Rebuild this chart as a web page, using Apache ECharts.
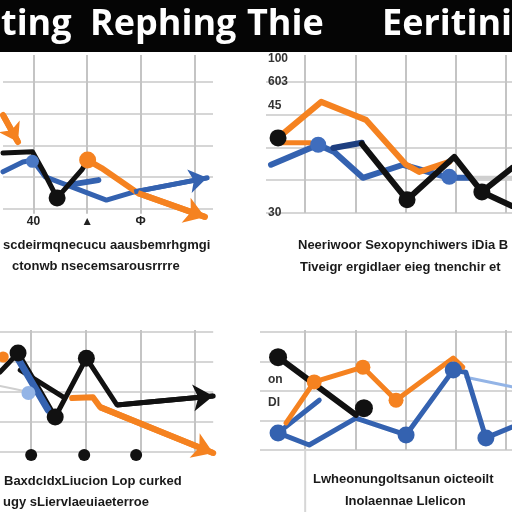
<!DOCTYPE html>
<html><head><meta charset="utf-8">
<script src="https://cdn.jsdelivr.net/npm/echarts@6/dist/echarts.min.js"></script>
<style>html,body{margin:0;padding:0;background:#fff}#c{width:512px;height:512px}</style>
</head><body><div id="c"></div>
<script>
// ---- text ----
const titleWords = ['ting', 'Rephing', 'Thie', 'Eeritinis'];
const captions = [
  'scdeirmqnecucu aausbemrhgmgi', 'ctonwb nsecemsarousrrrre',
  'Neeriwoor Sexopynchiwers iDia B', 'Tiveigr ergidlaer eieg tnenchir et',
  'BaxdcldxLiucion Lop curked', 'ugy sLiervlaeuiaeterroe',
  'Lwheonungoltsanun oicteoilt', 'Inolaennae Llelicon'
];
const p1XLabels = { 1: '40', 2: '▲', 3: 'Ф' };
const p2YLabels = { 0: '30', 4: '100\n603\n45' };
const p4YLabels = { 2: 'on\nDI' };

// ---- panel 1 (top left) ----
const p1OrangeA = [[0.43, 2.96], [0.71, 2.11]];
const p1OrangeB = [[2.01, 1.54], [2.27, 1.29], [2.95, 0.50], [4.20, -0.25]];
const p1Black = [[0.43, 1.76], [0.98, 1.80], [1.17, 1.23], [1.44, 0.35], [1.90, 1.23], [2.01, 1.54]];
const p1Blue = [[0.43, 1.17], [0.80, 1.48], [0.98, 1.54], [1.22, 1.01], [2.36, 0.28], [2.88, 0.54], [4.24, 0.98]];
const p1BlueShort = [[1.66, 0.76], [2.21, 0.91]];
const p1BlackDots = [[1.44, 0.35]];
const p1OrangeDots = [[2.01, 1.54]];
const p1BlueDots = [[0.98, 1.50]];

// ---- panel 2 (top right) ----
const p2Orange = [[0.46, 2.29], [1.32, 3.39], [2.21, 2.84], [3.01, 1.47], [3.27, 1.25], [3.87, 1.56]];
const p2OrangeShort = [[0.46, 2.14], [1.10, 2.14]];
const p2Black = [[2.13, 2.11], [3.03, 0.40], [3.97, 1.71], [4.52, 0.64], [5.12, 1.37]];
const p2BlackB = [[4.52, 0.64], [5.12, 0.21]];
const p2Blue = [[0.32, 1.47], [1.26, 2.08], [1.58, 1.86], [2.15, 1.07], [2.95, 1.47], [3.87, 1.07], [4.26, 1.07]];
const p2Navy = [[1.56, 1.98], [2.13, 2.14]];
const p2Gray = [[4.20, 1.07], [5.12, 1.07]];
const p2BlackDots = [[0.46, 2.29], [3.03, 0.40], [4.52, 0.64]];
const p2BlueDots = [[1.26, 2.08], [3.87, 1.10]];

// ---- panel 3 (bottom left) ----
const p3Black = [[0.43, 2.67], [0.76, 3.30], [1.02, 2.50], [1.44, 1.17], [2.01, 3.13], [2.57, 1.57], [4.33, 1.87]];
const p3BlackB = [[0.80, 2.73], [1.59, 1.83]];
const p3Blue = [[0.74, 3.17], [1.31, 1.40]];
const p3Gray = [[0.43, 2.20], [0.70, 2.10], [0.95, 2.00]];
const p3Orange = [[1.75, 1.80], [2.13, 1.83], [2.26, 1.50], [4.33, -0.03]];
const p3BlackDots = [[0.76, 3.30], [1.44, 1.17], [2.01, 3.13]];
const p3AxisDots = [[1.00, -0.10], [1.97, -0.10], [2.92, -0.10]];
const p3LightDots = [[0.95, 1.97]];
const p3OrangeDots = [[0.49, 3.17]];

// ---- panel 4 (bottom right) ----
const p4Black = [[0.46, 3.15], [2.01, 1.19]];
const p4Orange = [[0.62, 0.92], [1.18, 2.31], [2.15, 2.81], [2.81, 1.69], [3.95, 3.12], [4.14, 2.81]];
const p4Blue = [[0.46, 0.58], [1.08, 0.17], [2.01, 1.08], [3.01, 0.51], [3.95, 2.71], [4.20, 2.64], [4.60, 0.41], [5.12, 0.78]];
const p4BlueB = [[0.46, 0.58], [1.28, 1.69]];
const p4Light = [[4.20, 2.47], [5.12, 2.14]];
const p4Divider = [[1.00, -2.10], [1.00, 0.00]];
const p4BlackDots = [[0.46, 3.15], [2.17, 1.42]];
const p4OrangeDots = [[1.18, 2.31], [2.15, 2.81], [2.81, 1.69]];
const p4BlueDots = [[0.46, 0.58], [3.01, 0.51], [3.95, 2.71], [4.60, 0.41]];

const C = { orange: '#F58220', blue: '#3462B0', navy: '#1E3F80', black: '#111111', light: '#93B4E6', gray: '#cfcfcf' };

function xAx(i, min, max, labels) {
  return {
    type: 'value', gridIndex: i, min: min, max: max, minInterval: 1, maxInterval: 1,
    axisLine: { show: false }, axisTick: { show: false },
    axisLabel: labels ? { show: true, margin: 2, fontSize: 12, fontWeight: 'bold', color: '#222',
      formatter: v => labels[v] || '' } : { show: false },
    splitLine: { show: true, showMinLine: false, showMaxLine: false, lineStyle: { color: '#c4c4c4', width: 2 } }
  };
}
function yAx(i, min, max, showMin, labels, margin, lh) {
  return {
    type: 'value', gridIndex: i, min: min, max: max, minInterval: 1, maxInterval: 1,
    axisLine: { show: false }, axisTick: { show: false },
    axisLabel: labels ? { show: true, inside: true, margin: margin, fontSize: 12, fontWeight: 'bold',
      color: '#333', lineHeight: lh, fontFamily: 'Liberation Sans', formatter: v => labels[v] || '' } : { show: false },
    splitLine: { show: true, showMinLine: showMin, showMaxLine: false, lineStyle: { color: '#d6d6d6', width: 2 } }
  };
}
function line(g, data, color, width, z) {
  return { type: 'line', xAxisIndex: g, yAxisIndex: g, data: data, symbol: 'none', clip: false,
    lineStyle: { color: color, width: width, join: 'round', cap: 'round' }, z: z || 2, silent: true };
}
function arrow(g, data, color, width, size) {
  return { type: 'lines', coordinateSystem: 'cartesian2d', xAxisIndex: g, yAxisIndex: g, clip: false,
    symbol: ['none', 'arrow'], symbolSize: size,
    lineStyle: { color: color, width: width, opacity: 1 },
    data: [{ coords: data.slice(-2) }], z: 3, silent: true };
}
function dots(g, data, color, size, z) {
  return { type: 'scatter', xAxisIndex: g, yAxisIndex: g, data: data, symbol: 'circle', symbolSize: size,
    itemStyle: { color: color, opacity: 1 }, clip: false, z: z || 4, silent: true };
}

const chart = echarts.init(document.getElementById('c'), null, { renderer: 'canvas' });
const capStyle = { fill: '#1a1a1a', fontSize: 13, fontWeight: 'bold', fontFamily: 'Liberation Sans', verticalAlign: 'middle' };
const capPos = [[3, 245], [12, 266], [298, 245], [300, 267], [4, 481], [3, 502], [313, 479], [345, 501]];
const titleX = [1, 90, 247, 382];

chart.setOption({
  animation: false,
  backgroundColor: '#ffffff',
  grid: [
    { left: 0, top: 55, width: 213, height: 158.75 },
    { left: 266, top: 55, width: 246.2, height: 157.9 },
    { left: 0, top: 330, width: 213.2, height: 125.1 },
    { left: 260, top: 330, width: 252.3, height: 120 }
  ],
  xAxis: [xAx(0, 0.43, 4.35, p1XLabels), xAx(1, 0.22, 5.12), xAx(2, 0.43, 4.33), xAx(3, 0.10, 5.12)],
  yAxis: [yAx(0, -0.15, 4.85, false), yAx(1, 0, 4.82, true, p2YLabels, 2, 23.5),
          yAx(2, -0.1, 4.07, false), yAx(3, 0, 4.07, true, p4YLabels, 8, 23)],
  series: [
    // panel 1
    line(0, p1Blue, C.blue, 5), line(0, p1BlueShort, C.blue, 6), arrow(0, p1Blue, C.blue, 5, 18),
    line(0, p1Black, C.black, 5, 3),
    line(0, p1OrangeA, C.orange, 6), arrow(0, p1OrangeA, C.orange, 6, 18),
    line(0, p1OrangeB, C.orange, 6), arrow(0, p1OrangeB, C.orange, 6, 20),
    dots(0, p1BlackDots, C.black, 17), dots(0, p1OrangeDots, C.orange, 17), dots(0, p1BlueDots, '#4a78c4', 13),
    // panel 2
    line(1, p2Gray, C.gray, 4), line(1, p2Blue, C.blue, 6), line(1, p2Navy, C.navy, 6),
    line(1, p2Orange, C.orange, 6), line(1, p2OrangeShort, C.orange, 5),
    line(1, p2Black, C.black, 6, 3), line(1, p2BlackB, C.black, 6, 3),
    dots(1, p2BlueDots, '#3f6dbd', 16), dots(1, p2BlackDots, C.black, 17),
    // panel 3
    line(2, p3Gray, C.gray, 2), line(2, p3Orange, C.orange, 6), arrow(2, p3Orange, C.orange, 6, 20),
    line(2, p3Black, C.black, 5, 3), line(2, p3BlackB, C.black, 5, 3), arrow(2, p3Black, C.black, 5, 20),
    line(2, p3Blue, C.blue, 7, 3),
    dots(2, p3BlackDots, C.black, 17), dots(2, p3AxisDots, C.black, 12), dots(2, p3LightDots, C.light, 14),
    dots(2, p3OrangeDots, C.orange, 11),
    // panel 4
    line(3, p4Divider, '#d6d6d6', 2, 1), line(3, p4Light, C.light, 3),
    line(3, p4Blue, C.blue, 5), line(3, p4BlueB, C.blue, 5),
    line(3, p4Orange, C.orange, 5), line(3, p4Black, C.black, 6, 3),
    dots(3, p4BlueDots, C.blue, 17), dots(3, p4OrangeDots, C.orange, 15), dots(3, p4BlackDots, C.black, 18)
  ],
  graphic: [
    { type: 'rect', shape: { x: 0, y: 0, width: 512, height: 52 }, style: { fill: '#050505' }, z: 100 }
  ].concat(titleWords.map((w, i) => ({
    type: 'text', x: titleX[i], y: 25, z: 101,
    style: { text: w, fill: '#fff', fontSize: 36, fontWeight: 'bold', fontFamily: 'Open Sans', verticalAlign: 'middle' }
  }))).concat(captions.map((t, i) => ({
    type: 'text', x: capPos[i][0], y: capPos[i][1], z: 50,
    style: Object.assign({ text: t }, capStyle)
  })))
});
</script></body></html>
